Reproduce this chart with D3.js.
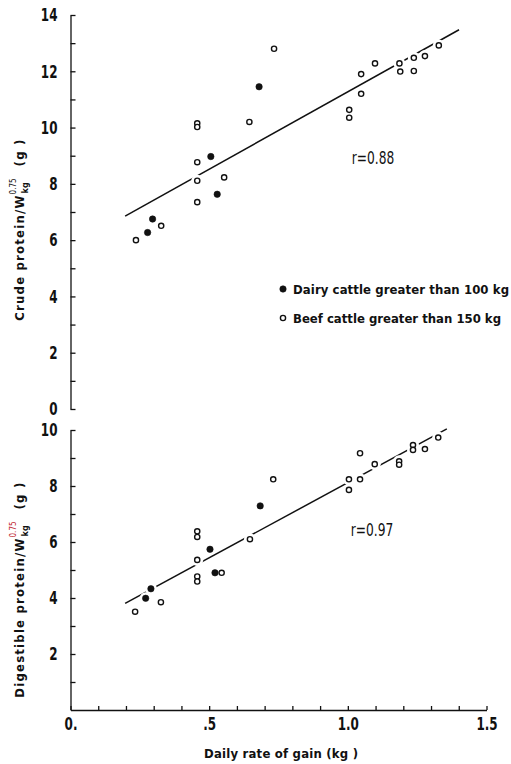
<!DOCTYPE html>
<html>
<head>
<meta charset="utf-8">
<script src="https://cdn.jsdelivr.net/npm/d3@7/dist/d3.min.js"></script>
<style>
  html, body { margin: 0; padding: 0; background: #fff; }
  svg { display: block; }
  .narrow { font-family: "DejaVu Sans Condensed", "Liberation Sans", sans-serif; }
  .cond { font-family: "DejaVu Sans Condensed", "Liberation Sans", sans-serif; }
</style>
</head>
<body>
<svg id="chart" width="511" height="764"></svg>
<script>
// Daily rate of gain (kg) for each animal, with crude protein per metabolic weight
const dairyGainCrude = [0.278, 0.296, 0.506, 0.529, 0.680];
const dairyCrude     = [6.27, 6.75, 8.97, 7.63, 11.45];
const beefGainCrude  = [0.236, 0.327, 0.457, 0.457, 0.457, 0.457, 0.457, 0.554, 0.645, 0.734,
                        1.005, 1.005, 1.048, 1.048, 1.098, 1.186, 1.189, 1.238, 1.238, 1.278, 1.328];
const beefCrude      = [6.00, 6.51, 10.15, 10.02, 8.77, 8.11, 7.35, 8.23, 10.20, 12.80,
                        10.63, 10.35, 11.90, 11.20, 12.28, 12.28, 11.99, 12.48, 12.01, 12.54, 12.92];

// Digestible protein per metabolic weight
const dairyGainDigest = [0.271, 0.290, 0.503, 0.521, 0.684];
const dairyDigest     = [3.99, 4.33, 5.74, 4.90, 7.29];
const beefGainDigest  = [0.233, 0.326, 0.457, 0.457, 0.457, 0.457, 0.457, 0.545, 0.647, 0.731,
                         1.004, 1.004, 1.044, 1.044, 1.097, 1.185, 1.185, 1.235, 1.235, 1.278, 1.326];
const beefDigest      = [3.51, 3.85, 6.38, 6.18, 5.36, 4.77, 4.59, 4.90, 6.10, 8.24,
                         8.24, 7.86, 9.17, 8.24, 8.78, 8.88, 8.76, 9.46, 9.29, 9.32, 9.73];

// Fitted regression lines: [intercept, slope], drawn over [from, to]
const crudeFit   = [5.77, 5.50];
const crudeSpan  = [0.197, 1.401];
const digestFit  = [2.75, 5.37];
const digestSpan = [0.197, 1.357];

const crudeTicks  = d3.range(0, 15);
const digestTicks = d3.range(1, 11);
const gainTicks   = d3.range(0, 16).map(i => i / 10);
const gainLabels  = { 0: "0.", 5: ".5", 10: "1.0", 15: "1.5" };

const svg = d3.select("#chart");
const ink = "#111";

const x = d3.scaleLinear().domain([0, 1.5]).range([70.5, 486.5]);
const yTop = d3.scaleLinear().domain([0, 14]).range([409, 15]);
const yBot = d3.scaleLinear().domain([0, 10]).range([710, 430]);

// Tall, narrow tick numerals: squeeze each label horizontally about its anchor
function styleAxis(g) {
  g.attr("font-family", null).attr("font-size", null);
  g.selectAll("path, line").attr("stroke", ink).attr("stroke-width", 1.3);
  g.selectAll("text").each(function () {
    const t = d3.select(this);
    const tx = +t.attr("x") || 0;
    t.attr("x", 0)
      .attr("transform", `translate(${tx},0) scale(0.74,1)`)
      .attr("class", "narrow").attr("font-size", 18).attr("font-weight", "bold")
      .attr("fill", ink);
  });
}

// y axes with inward ticks, labels on even values
svg.append("g").attr("transform", `translate(${x(0)},0)`)
  .call(d3.axisLeft(yTop).tickValues(crudeTicks).tickSize(-5).tickSizeOuter(0).tickPadding(13)
    .tickFormat(d => d % 2 === 0 ? d : ""))
  .call(styleAxis);

svg.append("g").attr("transform", `translate(${x(0)},0)`)
  .call(d3.axisLeft(yBot).tickValues(digestTicks).tickSize(-5).tickSizeOuter(0).tickPadding(13)
    .tickFormat(d => d % 2 === 0 ? d : ""))
  .call(styleAxis);

// x axis along the bottom panel
svg.append("g").attr("transform", `translate(0,${yBot(0)})`)
  .call(d3.axisBottom(x).tickValues(gainTicks).tickSize(-4).tickSizeOuter(0).tickPadding(7)
    .tickFormat(d => gainLabels[Math.round(d * 10)] || ""))
  .call(styleAxis);

// Regression lines
function fitLine(yScale, fit, span) {
  svg.append("line")
    .attr("x1", x(span[0])).attr("y1", yScale(fit[0] + fit[1] * span[0]))
    .attr("x2", x(span[1])).attr("y2", yScale(fit[0] + fit[1] * span[1]))
    .attr("stroke", ink).attr("stroke-width", 1.5);
}
fitLine(yTop, crudeFit, crudeSpan);
fitLine(yBot, digestFit, digestSpan);

// Points: a white halo breaks the line where it runs through a symbol
const pairs = (xs, ys) => xs.map((v, i) => [v, ys[i]]);
const layers = [
  { pts: pairs(beefGainCrude, beefCrude), y: yTop, filled: false },
  { pts: pairs(dairyGainCrude, dairyCrude), y: yTop, filled: true },
  { pts: pairs(beefGainDigest, beefDigest), y: yBot, filled: false },
  { pts: pairs(dairyGainDigest, dairyDigest), y: yBot, filled: true }
];
layers.forEach(L => {
  svg.append("g").selectAll("circle").data(L.pts).join("circle")
    .attr("cx", d => x(d[0])).attr("cy", d => L.y(d[1])).attr("r", 6)
    .attr("fill", "#fff");
});
layers.forEach(L => {
  svg.append("g").selectAll("circle").data(L.pts).join("circle")
    .attr("cx", d => x(d[0])).attr("cy", d => L.y(d[1]))
    .attr("r", L.filled ? 3.2 : 2.6)
    .attr("fill", L.filled ? ink : "#fff")
    .attr("stroke", ink).attr("stroke-width", L.filled ? 0.6 : 1.4);
});

// Correlation labels
function narrowLabel(cx, y, str) {
  svg.append("text").attr("class", "narrow")
    .attr("transform", `translate(${cx},${y}) scale(0.8,1)`)
    .attr("text-anchor", "middle").attr("font-size", 17).attr("fill", ink).text(str);
}
narrowLabel(373, 164, "r=0.88");
narrowLabel(372, 536, "r=0.97");

// Legend
const legend = [
  { label: "Dairy cattle greater than 100 kg", filled: true, len: 216 },
  { label: "Beef cattle greater than 150 kg", filled: false, len: 208 }
];
legend.forEach((d, i) => {
  const cy = 289 + i * 29;
  svg.append("circle").attr("cx", 283).attr("cy", cy).attr("r", d.filled ? 3.2 : 2.6)
    .attr("fill", d.filled ? ink : "#fff").attr("stroke", ink)
    .attr("stroke-width", d.filled ? 0.6 : 1.4);
  svg.append("text").attr("class", "cond").attr("x", 293).attr("y", cy + 5)
    .attr("font-size", 13).attr("fill", ink).attr("font-weight", "bold")
    .attr("textLength", d.len).attr("lengthAdjust", "spacing").text(d.label);
});

// X-axis title
svg.append("text").attr("class", "cond").attr("x", 204).attr("y", 758)
  .attr("font-size", 13).attr("fill", ink).attr("font-weight", "bold")
  .attr("textLength", 154).attr("lengthAdjust", "spacing").text("Daily rate of gain (kg )");

// Rotated y-axis titles with W^0.75 over kg
function yTitle(cy, lead, supColor) {
  const g = svg.append("g").attr("transform", `translate(24,${cy}) rotate(-90)`);
  const t = g.append("text").attr("class", "cond").attr("font-size", 13)
    .attr("letter-spacing", 1.2).attr("fill", ink).attr("font-weight", "bold");
  t.append("tspan").text(lead + "/W");
  const sup = t.append("tspan").attr("font-size", 8).attr("dy", -8).attr("letter-spacing", 0)
    .attr("fill", supColor).attr("font-weight", "normal").text("0.75");
  const supW = sup.node().getComputedTextLength();
  const sub = t.append("tspan").attr("font-size", 9).attr("letter-spacing", 0)
    .attr("dx", -supW + 1).attr("dy", 12).text("kg");
  const subW = sub.node().getComputedTextLength();
  t.append("tspan").attr("dx", Math.max(supW - subW - 1, 0) + 12).attr("dy", -4).text("(g )");
  const w = t.node().getComputedTextLength();
  t.attr("x", -w / 2);
}
yTitle(230, "Crude protein", ink);
yTitle(590, "Digestible protein", "#c0262d");
</script>
</body>
</html>
